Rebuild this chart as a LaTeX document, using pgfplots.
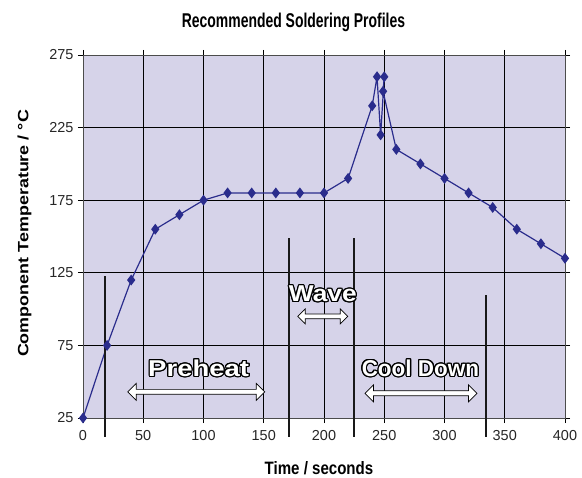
\documentclass[border=0pt]{standalone}
\usepackage{pgfplots}
\pgfplotsset{compat=1.18}
\usepackage{fontspec}
\setmainfont{Liberation Sans}
\usetikzlibrary{shapes.arrows}
\usepackage{contour}
\contourlength{1.2pt}
\definecolor{bgcol}{RGB}{214,211,233}
\definecolor{navy}{RGB}{42,44,140}
\begin{document}
\begin{tikzpicture}
\useasboundingbox (-83bp,-60bp) rectangle (499bp,418bp);
\begin{axis}[
  scale only axis, width=482bp, height=363bp,
  xmin=0, xmax=400, ymin=25, ymax=275,
  xtick={0,50,...,400}, ytick={25,75,...,275},
  grid=major, grid style={black, line width=0.7pt},
  axis background/.style={fill=bgcol},
  axis line style={draw=black!70, line width=0.8pt},
  tick align=outside, major tick length=5bp, tick style={black, line width=0.7pt},
  clip=false,
  /pgf/number format/assume math mode=true,
  ticklabel style={font=\fontsize{14.5}{15}\selectfont, text=black!85},
  xticklabel style={yshift=-4bp},
  yticklabel style={xshift=-1bp},
]
\addplot[navy, line width=1.2pt, mark=diamond*, mark size=4.5bp, mark options={fill=navy, draw=navy}] table {
x y
0 25
20 75
40 120
60 155
80 165
100 175
120 180
140 180
160 180
180 180
200 180
220 190
240 240
244 260
247 220
250 260
249 250
260 210
280 200
300 190
320 180
340 170
360 155
380 145
400 135
};
\draw[line width=1.8pt, black!90] (axis cs:18,12) -- (axis cs:18,123);
\draw[line width=1.8pt, black!90] (axis cs:171,12) -- (axis cs:171,149);
\draw[line width=1.8pt, black!90] (axis cs:225,12) -- (axis cs:225,149);
\draw[line width=2pt, black!90] (axis cs:334.3,12) -- (axis cs:334.3,110);
\node[font=\bfseries\fontsize{23}{24}\selectfont\addfontfeatures{FakeStretch=1.2}] at (axis cs:96,59) {\contour{black}{\textcolor{white}{Preheat}}};
\node[font=\bfseries\fontsize{23}{24}\selectfont\addfontfeatures{FakeStretch=1.15}] at (axis cs:199,110) {\contour{black}{\textcolor{white}{Wave}}};
\node[font=\bfseries\fontsize{23}{24}\selectfont\addfontfeatures{FakeStretch=0.98}] at (axis cs:280,59) {\contour{black}{\textcolor{white}{Cool Down}}};
\node[double arrow, draw=black, fill=white, line width=0.7pt, minimum height=137bp, minimum width=17bp, double arrow head extend=4.5bp, inner sep=1.5bp] at (axis cs:94,43) {};
\node[double arrow, draw=black, fill=white, line width=0.7pt, minimum height=50bp, minimum width=15bp, double arrow head extend=4bp, inner sep=1.5bp] at (axis cs:199,95) {};
\node[double arrow, draw=black, fill=white, line width=0.7pt, minimum height=112bp, minimum width=17bp, double arrow head extend=4.5bp, inner sep=1.5bp] at (axis cs:280.5,42) {};
\end{axis}
\node[font=\bfseries\fontsize{20}{22}\selectfont\addfontfeatures{FakeStretch=0.7}] at (210.5bp,396bp) {Recommended Soldering Profiles};
\node[font=\bfseries\fontsize{15}{16}\selectfont\addfontfeatures{FakeStretch=1.2}, rotate=90] at (-58.5bp,184.5bp) {Component Temperature / °C};
\node[font=\bfseries\fontsize{18}{19}\selectfont\addfontfeatures{FakeStretch=0.84}] at (236bp,-50bp) {Time / seconds};
\end{tikzpicture}
\end{document}
